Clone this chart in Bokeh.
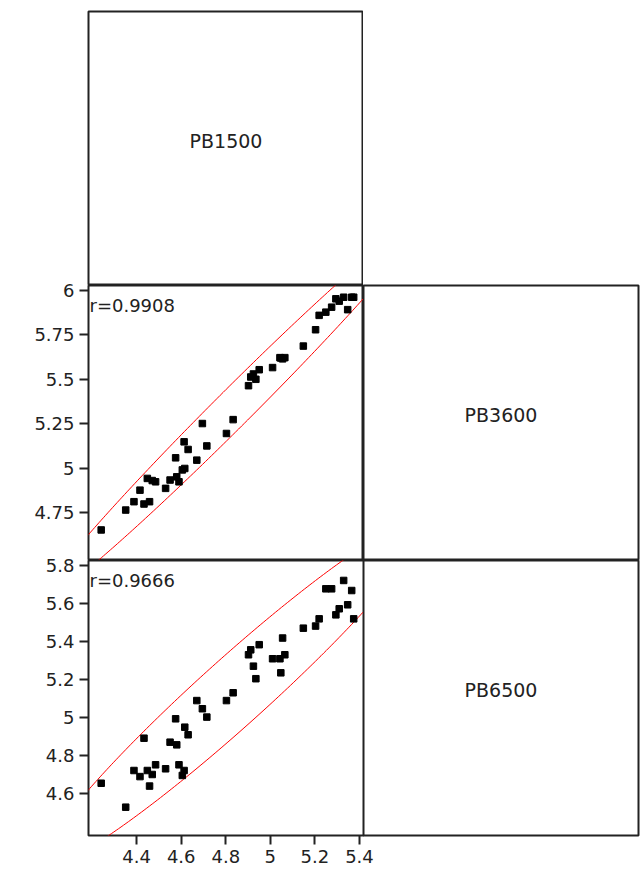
import numpy as np
from bokeh.plotting import figure
from bokeh.layouts import column, row, Spacer
from bokeh.models import Range1d, FixedTicker, Label
from bokeh.embed import file_html
from bokeh.resources import INLINE

# ---------------- data ----------------
pb1500 = [4.241, 4.351, 4.388, 4.415, 4.433, 4.448, 4.458, 4.485, 4.470, 4.530,
          4.550, 4.580, 4.590, 4.575, 4.616, 4.605, 4.631, 4.613, 4.670, 4.695,
          4.715, 4.803, 4.833, 4.902, 4.912, 4.935, 4.950, 4.924, 5.010, 5.043,
          5.065, 5.047, 5.055, 5.148, 5.203, 5.219, 5.249, 5.275, 5.294, 5.309,
          5.329, 5.347, 5.365, 5.374]
pb3600 = [4.652, 4.764, 4.811, 4.876, 4.798, 4.942, 4.811, 4.923, 4.930, 4.886,
          4.933, 4.951, 4.923, 5.058, 4.998, 4.990, 5.105, 5.148, 5.045, 5.251,
          5.125, 5.195, 5.273, 5.464, 5.513, 5.500, 5.554, 5.530, 5.566, 5.622,
          5.622, 5.620, 5.615, 5.687, 5.779, 5.860, 5.878, 5.906, 5.953, 5.940,
          5.962, 5.892, 5.962, 5.962]
pb6500 = [4.654, 4.528, 4.721, 4.689, 4.891, 4.721, 4.639, 4.751, 4.700, 4.730,
          4.870, 4.856, 4.751, 4.993, 4.949, 4.695, 4.909, 4.721, 5.089, 5.046,
          5.002, 5.089, 5.130, 5.330, 5.356, 5.204, 5.383, 5.270, 5.309, 5.309,
          5.330, 5.235, 5.418, 5.470, 5.481, 5.519, 5.677, 5.677, 5.540, 5.572,
          5.721, 5.593, 5.668, 5.519]

var_names = ["PB1500", "PB3600", "PB6500"]
r_labels = ["r=0.9908", "r=0.9666"]

x_ticks = [4.4, 4.6, 4.8, 5.0, 5.2, 5.4]
x_tick_labels = ["4.4", "4.6", "4.8", "5", "5.2", "5.4"]
y2_ticks = [4.75, 5.0, 5.25, 5.5, 5.75, 6.0]
y2_tick_labels = ["4.75", "5", "5.25", "5.5", "5.75", "6"]
y3_ticks = [4.6, 4.8, 5.0, 5.2, 5.4, 5.6, 5.8]
y3_tick_labels = ["4.6", "4.8", "5", "5.2", "5.4", "5.6", "5.8"]

X_RANGE = (4.184, 5.418)
Y2_RANGE = (4.48, 6.028)
Y3_RANGE = (4.379, 5.826)

FONT = "DejaVu Sans"
LINE = "#222222"
CELL_W = 275
LEFT_B = 88
OVL = 12      # vertical overlap so the top tick label is not cut
OVR = 22      # horizontal overlap so the last x label is not cut
BOT = 40


def ellipse(x, y, p=0.95, n=400):
    x = np.asarray(x); y = np.asarray(y)
    k = len(x)
    m = np.array([x.mean(), y.mean()])
    S = np.cov(np.vstack([x, y]))
    v = k - 2
    F = (v / 2.0) * ((1 - p) ** (-2.0 / v) - 1)
    c = 2.0 * (k - 1) / (k - 2) * F
    lam, V = np.linalg.eigh(S)
    t = np.linspace(0, 2 * np.pi, n)
    circ = np.vstack([np.cos(t), np.sin(t)])
    pts = V @ (np.sqrt(lam * c)[:, None] * circ)
    return m[0] + pts[0], m[1] + pts[1]


def base_fig(width, height, **kw):
    f = figure(width=width, height=height, output_backend="svg",
               toolbar_location=None, tools="",
               min_border_left=kw.get("bl", 0), min_border_right=kw.get("br", 0),
               min_border_top=kw.get("bt", 0), min_border_bottom=kw.get("bb", 0),
               x_range=kw.get("xr", Range1d(0, 1)), y_range=kw.get("yr", Range1d(0, 1)),
               margin=kw.get("margin", 0))
    f.outline_line_color = LINE
    f.outline_line_width = 2
    f.outline_line_alpha = 1
    f.background_fill_color = "white"
    f.border_fill_alpha = 0
    f.grid.visible = False
    f.axis.visible = False
    return f


def style_axis(ax, ticks, labels):
    ax.visible = True
    ax.ticker = FixedTicker(ticks=ticks)
    ax.major_label_overrides = {t: l for t, l in zip(ticks, labels)}
    ax.axis_line_color = None
    ax.major_tick_in = 0
    ax.major_tick_out = 9
    ax.major_tick_line_color = LINE
    ax.major_tick_line_width = 2
    ax.minor_tick_line_color = None
    ax.major_label_text_font = FONT
    ax.major_label_text_font_size = "18px"
    ax.major_label_text_color = "#222222"
    ax.major_label_standoff = 5


def name_cell(width, height, name, **kw):
    f = base_fig(width, height, **kw)
    f.add_layout(Label(x=0.5, y=0.5, y_offset=8, text=name, text_align="center",
                       text_baseline="middle", text_font=FONT, text_font_size="19px",
                       text_color="#222222"))
    return f


def scatter_cell(width, height, x, y, yr, yticks, ylabels, rtext, xaxis=False, **kw):
    f = base_fig(width, height, xr=Range1d(*X_RANGE), yr=Range1d(*yr), bl=LEFT_B, **kw)
    ex, ey = ellipse(x, y)
    f.line(ex, ey, line_color="red", line_width=1)
    f.scatter(x, y, marker="square", size=6.5, fill_color="black", line_color="black")
    style_axis(f.yaxis[0], yticks, ylabels)
    if xaxis:
        style_axis(f.xaxis[0], x_ticks, x_tick_labels)
    f.add_layout(Label(x=X_RANGE[0], y=yr[1], x_offset=1, y_offset=-9, text=rtext,
                       text_align="left", text_baseline="top", text_font=FONT,
                       text_font_size="18px", text_color="#222222"))
    return f


# row 1
f11 = name_cell(LEFT_B + CELL_W, 11 + 274, var_names[0], bl=LEFT_B, bt=11)
# row 2
f21 = scatter_cell(LEFT_B + CELL_W, OVL + 275, pb1500, pb3600, Y2_RANGE, y2_ticks,
                   y2_tick_labels, r_labels[0], bt=OVL)
f22 = name_cell(CELL_W + 2, OVL + 275, var_names[1], br=2, bt=OVL)
# row 3
f31 = scatter_cell(LEFT_B + CELL_W + OVR, OVL + 275 + BOT, pb1500, pb6500, Y3_RANGE, y3_ticks,
                   y3_tick_labels, r_labels[1], xaxis=True, bt=OVL, bb=BOT, br=OVR)
f32 = name_cell(CELL_W + 2, OVL + 275 + BOT, var_names[2], br=2, bt=OVL, bb=BOT,
                margin=(0, 0, 0, -OVR))

layout = column(row(f11, Spacer(width=CELL_W + 2, height=285)),
                row(f21, f22, margin=(-OVL, 0, 0, 0)),
                row(f31, f32, margin=(-OVL, 0, 0, 0)))

open("out.html", "w").write(file_html(layout, INLINE))
